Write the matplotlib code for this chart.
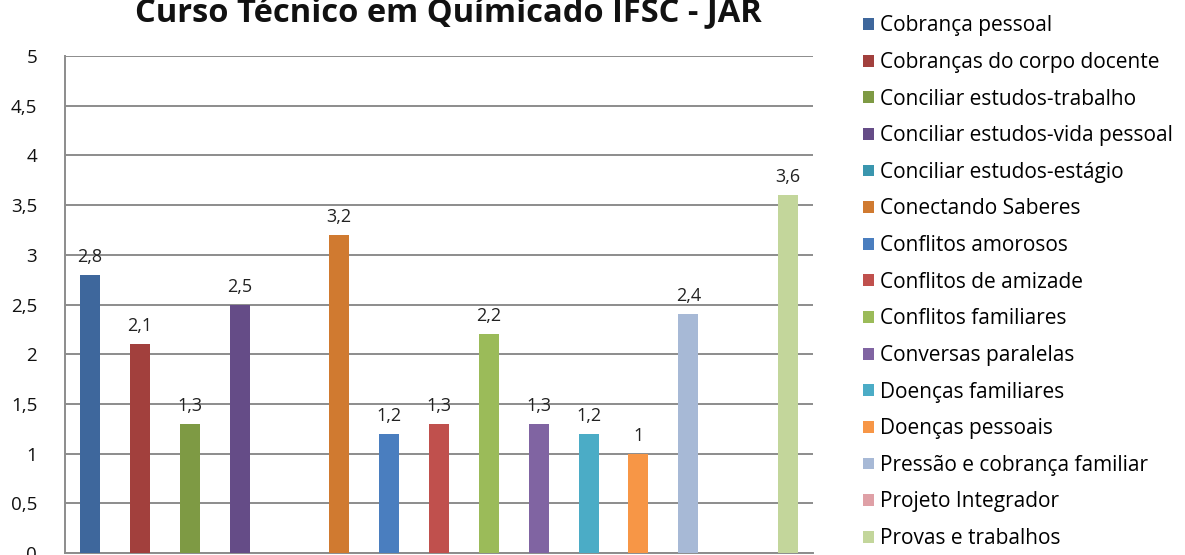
import matplotlib
matplotlib.use("Agg")
import matplotlib.pyplot as plt
from matplotlib.patches import Patch

plt.rcParams['font.family'] = ['Open Sans', 'DejaVu Sans']

# dados
categorias = [
    "Cobrança pessoal",
    "Cobranças do corpo docente",
    "Conciliar estudos-trabalho",
    "Conciliar estudos-vida pessoal",
    "Conciliar estudos-estágio",
    "Conectando Saberes",
    "Conflitos amorosos",
    "Conflitos de amizade",
    "Conflitos familiares",
    "Conversas paralelas",
    "Doenças familiares",
    "Doenças pessoais",
    "Pressão e cobrança familiar",
    "Projeto Integrador",
    "Provas e trabalhos",
]
valores = [2.8, 2.1, 1.3, 2.5, 0, 3.2, 1.2, 1.3, 2.2, 1.3, 1.2, 1.0, 2.4, 0, 3.6]
cores = [
    "#3E679C", "#A2403D", "#7E9A44", "#654C87", "#3A96AE",
    "#D07A30", "#4A7EBF", "#C0504D", "#9BBB59", "#8064A2",
    "#4BACC6", "#F79646", "#A7B9D6", "#DFA0A6", "#C3D69B",
]
titulo = "Curso Técnico em Químicado IFSC - JAR"
yticks = [0, 0.5, 1, 1.5, 2, 2.5, 3, 3.5, 4, 4.5, 5]


def fmt(v):
    s = ("%.1f" % v).rstrip("0").rstrip(".")
    return s.replace(".", ",")


fig = plt.figure(figsize=(11.85, 5.55), dpi=100)
ax = fig.add_axes([65 / 1185, 2 / 555, 748 / 1185, 497 / 555])

x = list(range(len(valores)))
ax.bar(x, valores, width=0.4, color=cores, zorder=3)

for xi, v in zip(x, valores):
    if v > 0:
        ax.text(xi, v + 0.09, fmt(v), ha="center", va="bottom",
                fontsize=13, color="#222222")

ax.set_xlim(-0.5, len(valores) - 0.5)
ax.set_ylim(0, 5)
ax.set_yticks(yticks)
ax.set_yticklabels([fmt(t) for t in yticks], fontsize=13.5, color="#111111")
ax.set_xticks([])
ax.tick_params(axis="y", length=0, pad=20)
ax.grid(axis="y", color="#8C8C8C", linewidth=1.4, zorder=0)
for s in ["top", "right"]:
    ax.spines[s].set_visible(False)
ax.spines["left"].set_color("#8C8C8C")
ax.spines["left"].set_linewidth(1.4)
ax.spines["bottom"].set_color("#8C8C8C")
ax.spines["bottom"].set_linewidth(1.4)

fig.text(448 / 1185, 1 - 21 / 555, titulo, ha="center", va="baseline",
         fontsize=23.5, fontweight="bold", color="#111111")

handles = [Patch(facecolor=c, edgecolor="none") for c in cores]
fig.legend(handles, categorias, loc="upper left",
           bbox_to_anchor=(855 / 1185, 1 - 7 / 555), frameon=False,
           fontsize=15, handlelength=0.5, handleheight=0.5,
           handletextpad=0.3, labelspacing=0.75, borderaxespad=0)

fig.savefig("out.png", dpi=100)
